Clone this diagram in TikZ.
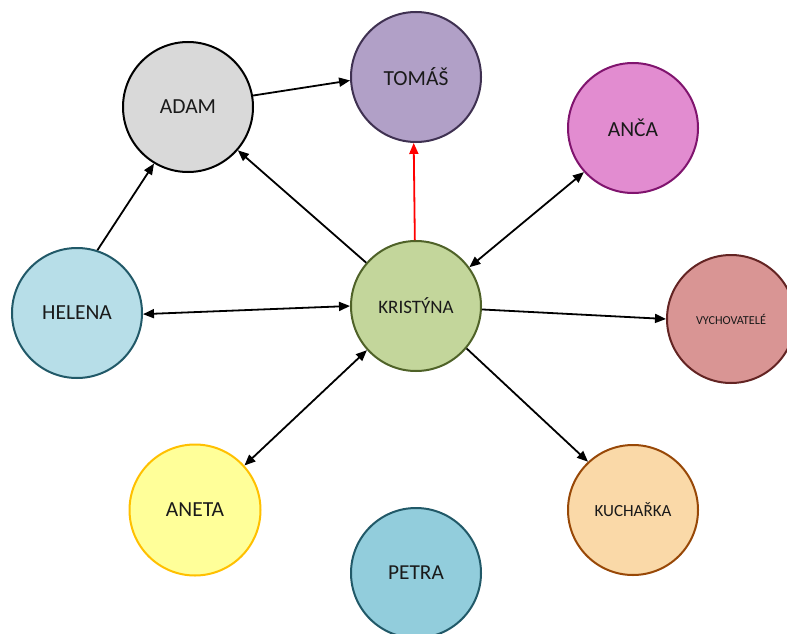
\documentclass[tikz,border=0pt]{standalone}
\usepackage{fontspec}
\setmainfont{Carlito}
\usetikzlibrary{arrows.meta}
\definecolor{txt}{HTML}{1A1A1A}
\tikzset{
  person/.style={circle, minimum size=130pt, inner sep=0pt, line width=2pt, font=\fontsize{21.5}{23}\selectfont, text=txt},
  link/.style={line width=1.8pt, -{Triangle[length=11pt,width=9pt]}},
  both/.style={line width=1.8pt, {Triangle[length=11pt,width=9pt]}-{Triangle[length=11pt,width=9pt]}},
}
\begin{document}
\begin{tikzpicture}[x=1pt,y=-1pt]
\clip (0,0) rectangle (787,634);
\fill[white] (0,0) rectangle (787,634);
\node[person, draw=black, fill={rgb,255:red,217;green,217;blue,217}] (adam) at (188,107) {ADAM};
\node[person, draw={rgb,255:red,63;green,49;blue,81}, fill={rgb,255:red,177;green,160;blue,199}] (tomas) at (416,77) {TOMÁŠ};
\node[person, draw={rgb,255:red,128;green,20;blue,110}, fill={rgb,255:red,226;green,140;blue,208}] (anca) at (633,128) {ANČA};
\node[person, draw={rgb,255:red,33;green,89;blue,104}, fill={rgb,255:red,183;green,222;blue,232}] (helena) at (77,313) {HELENA};
\node[person, font=\fontsize{19}{21}\selectfont, draw={rgb,255:red,79;green,98;blue,40}, fill={rgb,255:red,195;green,214;blue,155}] (kristyna) at (416,306) {KRISTÝNA};
\node[person, minimum size=128pt, font=\fontsize{12.2}{14}\selectfont, draw={rgb,255:red,99;green,36;blue,35}, fill={rgb,255:red,217;green,149;blue,148}] (vych) at (731,319) {VYCHOVATELÉ};
\node[person, minimum size=131pt, draw={rgb,255:red,255;green,192;blue,0}, fill={rgb,255:red,255;green,255;blue,153}] (aneta) at (195,510) {ANETA};
\node[person, font=\fontsize{17}{19}\selectfont, draw={rgb,255:red,152;green,72;blue,7}, fill={rgb,255:red,250;green,217;blue,168}] (kuch) at (633,510) {KUCHAŘKA};
\node[person, font=\fontsize{21.3}{23}\selectfont, draw={rgb,255:red,33;green,89;blue,104}, fill={rgb,255:red,146;green,205;blue,220}] (petra) at (416,573) {PETRA};

\draw[link] (adam.10) -- (tomas.183);
\draw[link] (helena.72) -- (adam.239);
\draw[link] (kristyna.139) -- (adam.-41);
\draw[link, red] (kristyna.91) -- (tomas.268);
\draw[both] (anca.222) -- (kristyna.36);
\draw[both] (helena.-1) -- (kristyna.180);
\draw[link] (kristyna.-3) -- (vych.180);
\draw[link] (kristyna.-40) -- (kuch.133);
\draw[both] (aneta.42) -- (kristyna.222);
\end{tikzpicture}
\end{document}
